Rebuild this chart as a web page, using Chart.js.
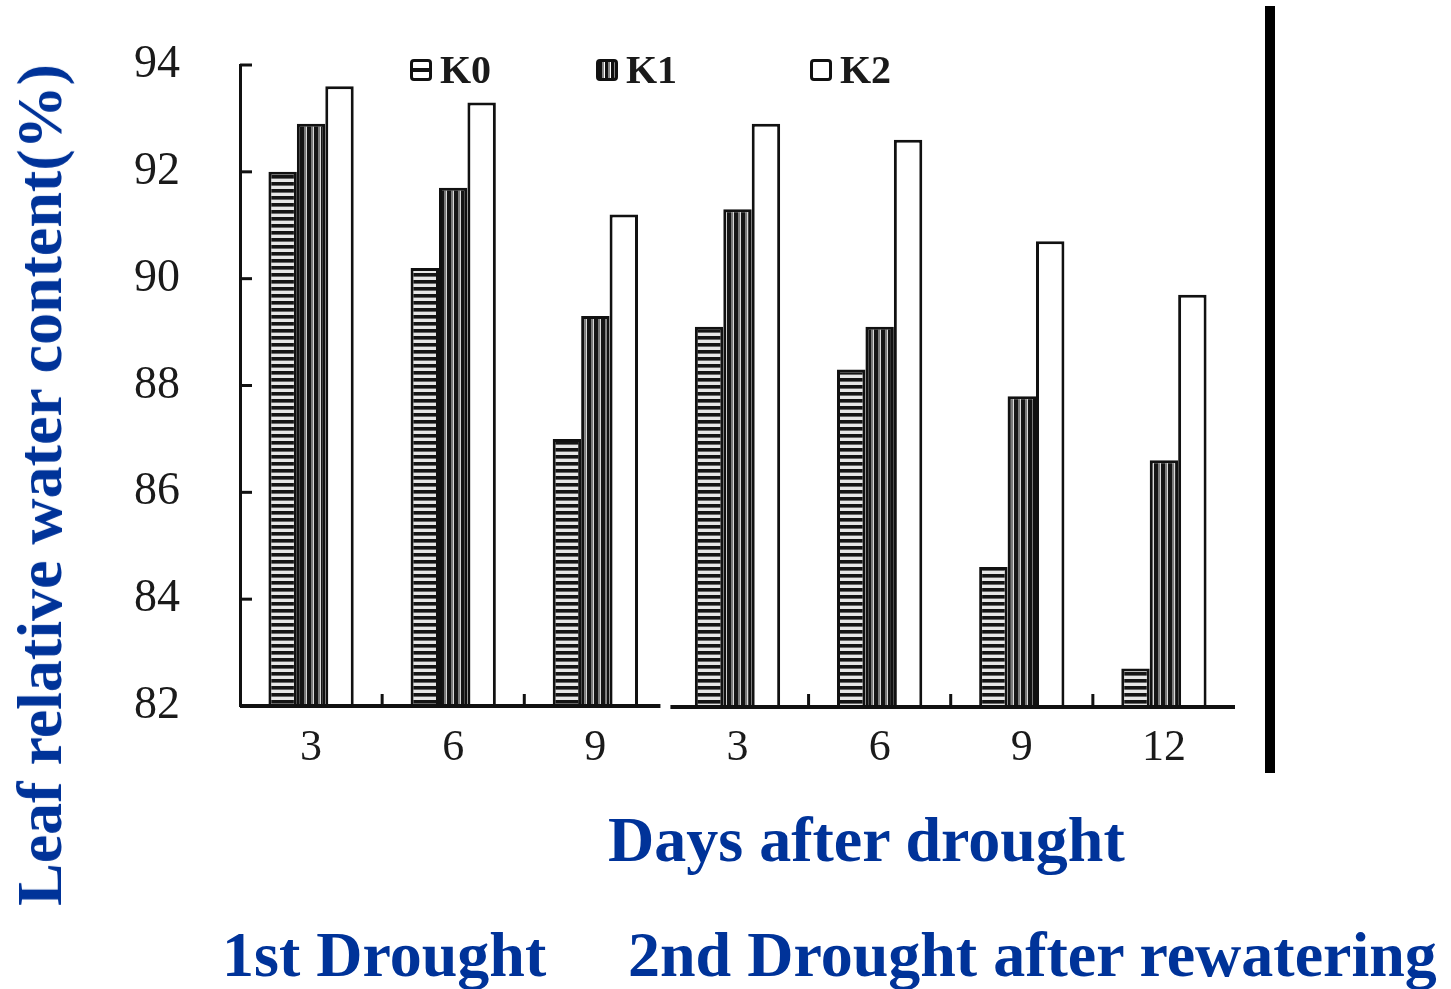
<!DOCTYPE html>
<html>
<head>
<meta charset="utf-8">
<script src="https://cdn.jsdelivr.net/npm/chart.js@4.4.1/dist/chart.umd.min.js"></script>
<style>
  html, body { margin: 0; padding: 0; background: #fff; }
  #wrap { position: relative; width: 1451px; height: 989px; overflow: hidden; background: #fff; }
  #c { position: absolute; left: 0; top: 0; }
  .blue { position: absolute; font-family: "Liberation Serif", "Times New Roman", serif; font-weight: bold;
          font-size: 64px; line-height: 1; color: #003399; white-space: nowrap; }
  #ytitle { left: 40px; top: 485px; transform: translate(-50%, -50%) rotate(-90deg); }
  .leg { position: absolute; top: 50px; font-family: "Liberation Serif", "Times New Roman", serif;
         font-size: 40px; line-height: 1; color: #1a1a1a; white-space: nowrap; font-weight: bold; }
  .sw { display: inline-block; width: 16px; height: 16px; border: 3px solid #111; border-radius: 4px;
        vertical-align: middle; margin-right: 8px; position: relative; top: -4px; }
  #vline { position: absolute; left: 1265px; top: 6px; width: 10px; height: 767px; background: #000; }
</style>
</head>
<body>
<div id="wrap">
  <canvas id="c" width="1451" height="989"></canvas>
  <div class="leg" style="left:410px;"><span class="sw" style="background:linear-gradient(to bottom,#fff 0 6px,#111 6px 10px,#fff 10px 16px);"></span>K0</div>
  <div class="leg" style="left:596px;"><span class="sw" style="background:repeating-linear-gradient(to right,#111 0 3px,#888 3px 5px,#fff 5px 6px);"></span>K1</div>
  <div class="leg" style="left:810px;"><span class="sw" style="background:#fff;"></span>K2</div>
  <div id="vline"></div>
  <div class="blue" id="ytitle">Leaf relative water content(%)</div>
  <div class="blue" style="left:608px; top:808px;">Days after drought</div>
  <div class="blue" style="left:222px; top:923px;">1st Drought</div>
  <div class="blue" style="left:628px; top:923px;">2nd Drought after rewatering</div>
</div>
<script>
// ---- data ----
const categories = ['3', '6', '9', '3', '6', '9', '12'];
const seriesNames = ['K0', 'K1', 'K2'];
const k0Values = [92.0, 90.2, 87.0, 89.1, 88.3, 84.6, 82.7];
const k1Values = [92.9, 91.7, 89.3, 91.3, 89.1, 87.8, 86.6];
const k2Values = [93.6, 93.3, 91.2, 92.9, 92.6, 90.7, 89.7];
const yTickValues = [82, 84, 86, 88, 90, 92, 94];
const breakAfterIndex = 2; // axis break between 1st and 2nd drought

// ---- patterns ----
function makePattern(w, h, draw) {
  const pc = document.createElement('canvas');
  pc.width = w; pc.height = h;
  const g = pc.getContext('2d');
  draw(g, w, h);
  return document.getElementById('c').getContext('2d').createPattern(pc, 'repeat');
}
const hStripes = makePattern(8, 7, (g, w, h) => {
  g.fillStyle = '#e6e6e6'; g.fillRect(0, 0, w, h);
  g.fillStyle = '#141414'; g.fillRect(0, 0, w, 3);
  g.fillStyle = '#666'; g.fillRect(0, 3, w, 1);
});
const vStripes = makePattern(7, 8, (g, w, h) => {
  g.fillStyle = '#151515'; g.fillRect(0, 0, w, h);
  g.fillStyle = '#7a7a7a'; g.fillRect(3, 0, 2, h);
  g.fillStyle = '#d8d8d8'; g.fillRect(5, 0, 1, h);
});

// ---- axis decoration plugin (inward ticks, broken x axis) ----
const axisDeco = {
  id: 'axisDeco',
  afterDatasetsDraw(chart) {
    const { ctx, chartArea, scales } = chart;
    const x = scales.x, y = scales.y;
    ctx.save();
    ctx.strokeStyle = '#111';
    ctx.lineWidth = 3;
    yTickValues.forEach(v => {
      const py = y.getPixelForValue(v);
      ctx.beginPath();
      ctx.moveTo(chartArea.left, py);
      ctx.lineTo(chartArea.left + 12, py);
      ctx.stroke();
    });
    const n = categories.length;
    const bounds = [];
    for (let i = 0; i < n - 1; i++) {
      bounds.push((x.getPixelForValue(i) + x.getPixelForValue(i + 1)) / 2);
    }
    const base = chartArea.bottom;
    bounds.forEach((bx, i) => {
      if (i === breakAfterIndex) return;
      ctx.beginPath();
      ctx.moveTo(bx, base);
      ctx.lineTo(bx, base - 12);
      ctx.stroke();
    });
    const bx = bounds[breakAfterIndex];
    ctx.lineWidth = 4;
    ctx.beginPath();
    ctx.moveTo(chartArea.left, base);
    ctx.lineTo(bx - 6, base);
    ctx.moveTo(bx + 4, base + 1);
    ctx.lineTo(chartArea.right, base + 1);
    ctx.stroke();
    ctx.restore();
  }
};

new Chart(document.getElementById('c'), {
  type: 'bar',
  data: {
    labels: categories,
    datasets: [
      { label: seriesNames[0], data: k0Values, backgroundColor: hStripes },
      { label: seriesNames[1], data: k1Values, backgroundColor: vStripes },
      { label: seriesNames[2], data: k2Values, backgroundColor: '#ffffff' }
    ].map(d => Object.assign(d, {
      borderColor: '#111', borderWidth: 3, borderSkipped: 'bottom',
      categoryPercentage: 0.6, barPercentage: 1.0
    }))
  },
  options: {
    responsive: false,
    animation: false,
    devicePixelRatio: 1,
    layout: { padding: { top: 65, right: 216, bottom: 183, left: 0 } },
    plugins: { legend: { display: false }, tooltip: { enabled: false }, title: { display: false } },
    scales: {
      x: {
        grid: { display: false, drawTicks: false },
        border: { display: false },
        ticks: { color: '#1a1a1a', padding: 16,
                 font: { family: '"Liberation Serif", serif', size: 44 } },
        afterFit: s => { s.height = 100; s.paddingLeft = 0; s.paddingRight = 0; }
      },
      y: {
        min: 82, max: 94,
        afterBuildTicks: s => { s.ticks = yTickValues.map(v => ({ value: v })); },
        grid: { display: true, drawOnChartArea: false, drawTicks: false },
        border: { display: true, color: '#111', width: 3 },
        ticks: { color: '#1a1a1a', padding: 60,
                 font: { family: '"Liberation Serif", serif', size: 46 } },
        afterFit: s => { s.width = 240; s.paddingTop = 0; s.paddingBottom = 0; }
      }
    }
  },
  plugins: [axisDeco]
});
</script>
</body>
</html>
